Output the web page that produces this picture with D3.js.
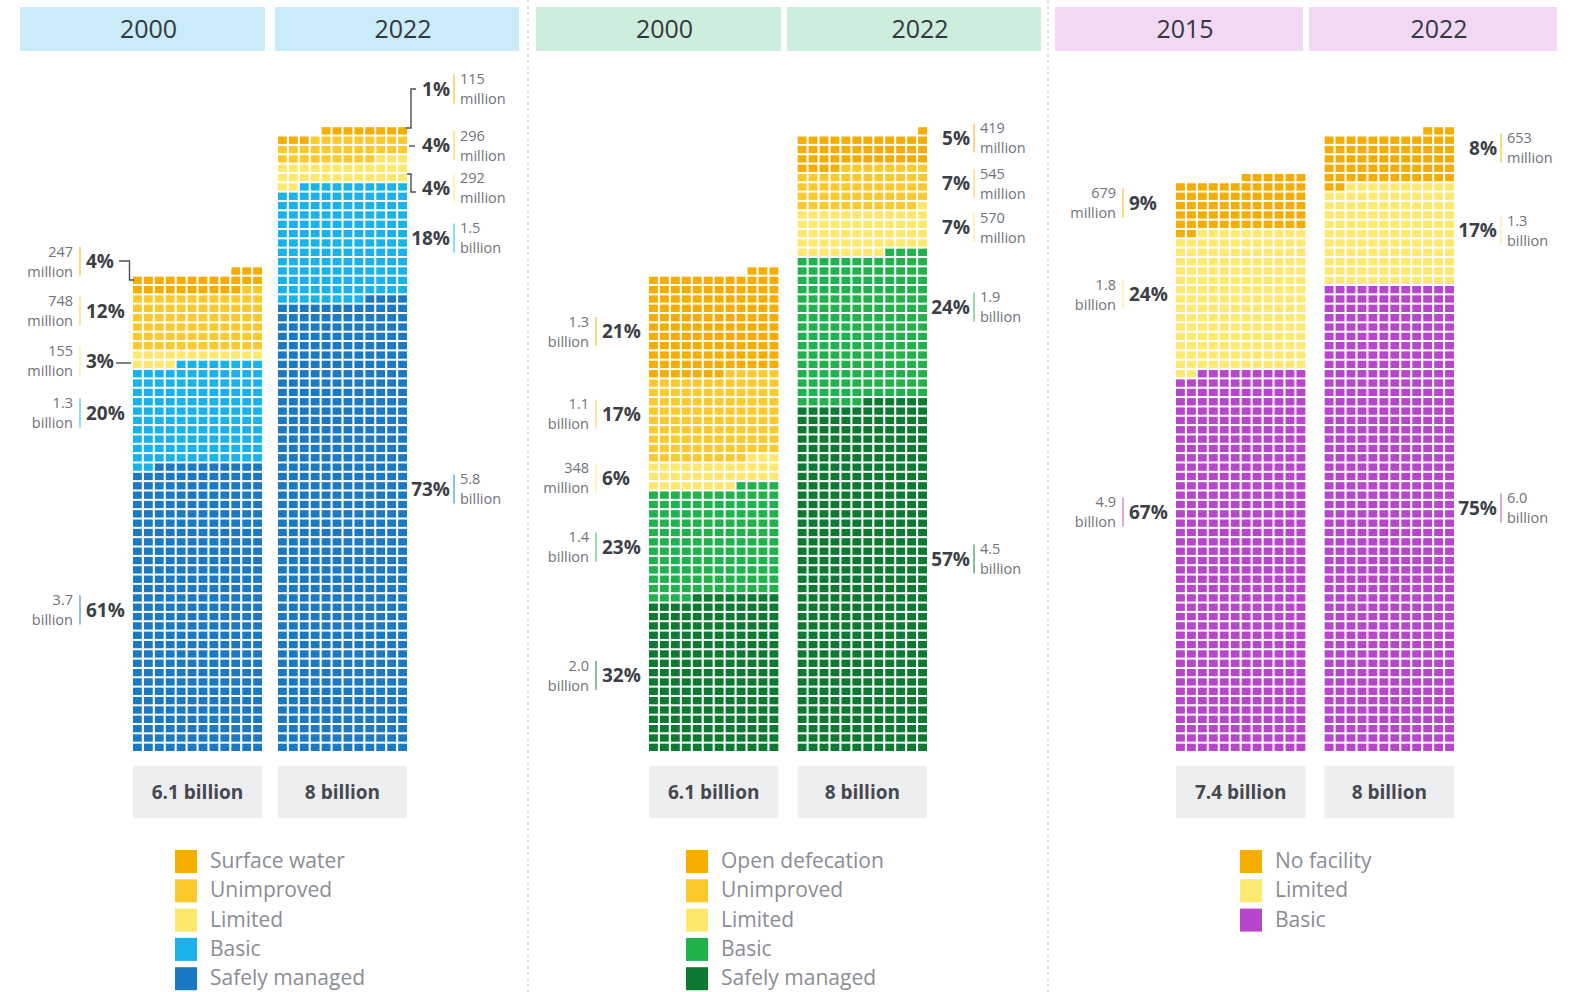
<!DOCTYPE html>
<html><head><meta charset="utf-8">
<script src="https://cdn.jsdelivr.net/npm/d3@7"></script>
<style>
body{margin:0;background:#fff;}
svg{display:block;font-family:"Open Sans","Noto Sans",sans-serif;}
</style>
</head><body>
<svg id="chart" width="1573" height="992"></svg>
<script>
// ---------------- DATA ----------------
// categories listed top of the stack first
const waterCategories = ["Surface water", "Unimproved", "Limited", "Basic", "Safely managed"];
const sanitationCategories = ["Open defecation", "Unimproved", "Limited", "Basic", "Safely managed"];
const hygieneCategories = ["No facility", "Limited", "Basic"];

const waterYears = ["2000", "2022"];
const sanitationYears = ["2000", "2022"];
const hygieneYears = ["2015", "2022"];

// people, in millions
const water2000 = [247, 748, 155, 1300, 3700];
const water2022 = [115, 296, 292, 1500, 5800];
const sanitation2000 = [1300, 1100, 348, 1400, 2000];
const sanitation2022 = [419, 545, 570, 1900, 4500];
const hygiene2015 = [679, 1800, 4900];
const hygiene2022 = [653, 1300, 6000];

// share labels (%)
const water2000Pct = [4, 12, 3, 20, 61];
const water2022Pct = [1, 4, 4, 18, 73];
const sanitation2000Pct = [21, 17, 6, 23, 32];
const sanitation2022Pct = [5, 7, 7, 24, 57];
const hygiene2015Pct = [9, 24, 67];
const hygiene2022Pct = [8, 17, 75];

// people labels
const water2000Text = [["247", "million"], ["748", "million"], ["155", "million"], ["1.3", "billion"], ["3.7", "billion"]];
const water2022Text = [["115", "million"], ["296", "million"], ["292", "million"], ["1.5", "billion"], ["5.8", "billion"]];
const sanitation2000Text = [["1.3", "billion"], ["1.1", "billion"], ["348", "million"], ["1.4", "billion"], ["2.0", "billion"]];
const sanitation2022Text = [["419", "million"], ["545", "million"], ["570", "million"], ["1.9", "billion"], ["4.5", "billion"]];
const hygiene2015Text = [["679", "million"], ["1.8", "billion"], ["4.9", "billion"]];
const hygiene2022Text = [["653", "million"], ["1.3", "billion"], ["6.0", "billion"]];

// population totals
const waterTotals = ["6.1 billion", "8 billion"];
const sanitationTotals = ["6.1 billion", "8 billion"];
const hygieneTotals = ["7.4 billion", "8 billion"];

const peoplePerCell = 10; // millions of people per square
const cellsPerRow = 12;

// ---------------- LAYOUT / STYLE ----------------
const W = 1573, H = 992;
const BOTTOM = 752, ROW_PITCH = 9.34, MAX_ROWS = 70;

const panels = [
  {
    years: waterYears, categories: waterCategories,
    values: [water2000, water2022], pcts: [water2000Pct, water2022Pct], texts: [water2000Text, water2022Text],
    totals: waterTotals,
    colors: ["#f5ad00", "#fbc92c", "#fde76c", "#19b2ea", "#1b78c3"],
    header: "#c9ecf8", headerBoxes: [[20, 265], [275, 519]],
    colRange: [133, 407], pad: 0.11,
    labelY: [[261, 310.5, 360.5, 412.5, 609.5], [88.5, 145, 187.5, 237.5, 488.5]],
    connectors: [
      [[[119, 261], [129.5, 261], [129.5, 280], [134, 280]], [[116, 363], [131, 363]]],
      [[[416, 89], [411, 89], [411, 128], [406, 128]], [[409, 146], [415, 146]], [[407, 174], [411, 174], [411, 192], [416, 192]]]
    ],
    legendX: 175
  },
  {
    years: sanitationYears, categories: sanitationCategories,
    values: [sanitation2000, sanitation2022], pcts: [sanitation2000Pct, sanitation2022Pct], texts: [sanitation2000Text, sanitation2022Text],
    totals: sanitationTotals,
    colors: ["#f5ad00", "#fbc92c", "#fde76c", "#21b24b", "#0c7a31"],
    header: "#cdeedc", headerBoxes: [[536, 781], [787, 1041]],
    colRange: [649, 927], pad: 0.13,
    labelY: [[331, 413.5, 477.5, 546.5, 675], [137.5, 183, 227, 306.5, 558.5]],
    connectors: [[], []],
    legendX: 686
  },
  {
    years: hygieneYears, categories: hygieneCategories,
    values: [hygiene2015, hygiene2022], pcts: [hygiene2015Pct, hygiene2022Pct], texts: [hygiene2015Text, hygiene2022Text],
    totals: hygieneTotals,
    colors: ["#f5ad00", "#fde96f", "#b845cb"],
    header: "#f2d8f2", headerBoxes: [[1055, 1303], [1309, 1557]],
    colRange: [1176, 1454], pad: 0.13,
    labelY: [[202.5, 294, 511.5], [147.5, 230, 507.5]],
    connectors: [[], []],
    legendX: 1240
  }
];

const svg = d3.select("#chart");
svg.append("rect").attr("width", W).attr("height", H).attr("fill", "#fff");

// separators
[528, 1048].forEach(x => {
  svg.append("line").attr("x1", x).attr("x2", x).attr("y1", 0).attr("y2", H)
    .attr("stroke", "#c4c6c9").attr("stroke-width", 1).attr("stroke-dasharray", "3,3");
});

const y = d3.scaleLinear().domain([0, MAX_ROWS]).range([BOTTOM, BOTTOM - MAX_ROWS * ROW_PITCH]);
const line = d3.line();

panels.forEach(p => {
  const g = svg.append("g");

  // headers
  p.years.forEach((yr, i) => {
    const [a, b] = p.headerBoxes[i];
    g.append("rect").attr("x", a).attr("y", 7).attr("width", b - a).attr("height", 44).attr("fill", p.header);
    g.append("text").attr("x", (a + b) / 2 + 6).attr("y", 38).attr("text-anchor", "middle")
      .attr("font-size", 25).attr("font-weight", 500).attr("fill", "#34373e").text(yr);
  });

  const xCol = d3.scaleBand().domain(p.years).range(p.colRange).paddingInner(p.pad);

  p.years.forEach((yr, yi) => {
    const vals = p.values[yi];
    // stack bottom-up: last category at bottom
    const order = d3.range(vals.length).reverse();
    let cum = 0;
    const bounds = order.map(k => { const start = Math.round(cum / peoplePerCell); cum += vals[k]; return {k, start, end: Math.round(cum / peoplePerCell)}; });
    const total = bounds[bounds.length - 1].end;
    const cells = d3.range(total).map(i => {
      const b = bounds.find(b => i >= b.start && i < b.end);
      return {i, row: Math.floor(i / cellsPerRow), col: cellsPerRow - 1 - (i % cellsPerRow), k: b.k};
    });
    const x0 = xCol(yr);
    const xCell = d3.scaleBand().domain(d3.range(cellsPerRow)).range([x0, x0 + xCol.bandwidth()]).paddingInner(0.19);
    g.append("g").selectAll("rect").data(cells).join("rect")
      .attr("x", d => xCell(d.col))
      .attr("y", d => y(d.row + 1) + 1)
      .attr("width", xCell.bandwidth())
      .attr("height", d => y(d.row) - y(d.row + 1) - 2)
      .attr("fill", d => p.colors[d.k]);

    // total box
    g.append("rect").attr("x", x0).attr("y", 766).attr("width", xCol.bandwidth()).attr("height", 52).attr("fill", "#eceef0");
    g.append("text").attr("x", x0 + xCol.bandwidth() / 2).attr("y", 799).attr("text-anchor", "middle")
      .attr("font-size", 19).attr("font-weight", 700).attr("fill", "#45484f").text(p.totals[yi]);

    // labels
    const left = yi === 0;
    const lineX = left ? x0 - 53 : x0 + xCol.bandwidth() + 47;
    p.pcts[yi].forEach((pct, k) => {
      const cy = p.labelY[yi][k];
      const [num, unit] = p.texts[yi][k];
      g.append("line").attr("x1", lineX).attr("x2", lineX).attr("y1", cy - 14).attr("y2", cy + 15)
        .attr("stroke", p.colors[k]).attr("stroke-opacity", 0.6).attr("stroke-width", 1.6);
      g.append("text").attr("x", left ? lineX + 6 : lineX - 4).attr("y", cy + 7)
        .attr("text-anchor", left ? "start" : "end").attr("font-size", 19).attr("font-weight", 700)
        .attr("fill", "#3c3f46").text(pct + "%");
      const vx = left ? lineX - 7 : lineX + 6;
      const anchor = left ? "end" : "start";
      g.append("text").attr("x", vx).attr("y", cy - 4.5).attr("text-anchor", anchor)
        .attr("font-size", 14.5).attr("fill", "#70737a").text(num);
      g.append("text").attr("x", vx).attr("y", cy + 15.5).attr("text-anchor", anchor)
        .attr("font-size", 14.5).attr("fill", "#70737a").text(unit);
    });

    // connectors
    p.connectors[yi].forEach(pts => {
      g.append("path").attr("d", line(pts)).attr("fill", "none").attr("stroke", "#4a4d54").attr("stroke-width", 1.4);
    });
  });

  // legend
  p.categories.forEach((c, k) => {
    const ty = 850 + k * 29.3;
    g.append("rect").attr("x", p.legendX).attr("y", ty).attr("width", 22).attr("height", 23).attr("fill", p.colors[k]);
    g.append("text").attr("x", p.legendX + 35).attr("y", ty + 18).attr("font-size", 21)
      .attr("fill", "#8a8d94").text(c);
  });
});
</script>
</body></html>
